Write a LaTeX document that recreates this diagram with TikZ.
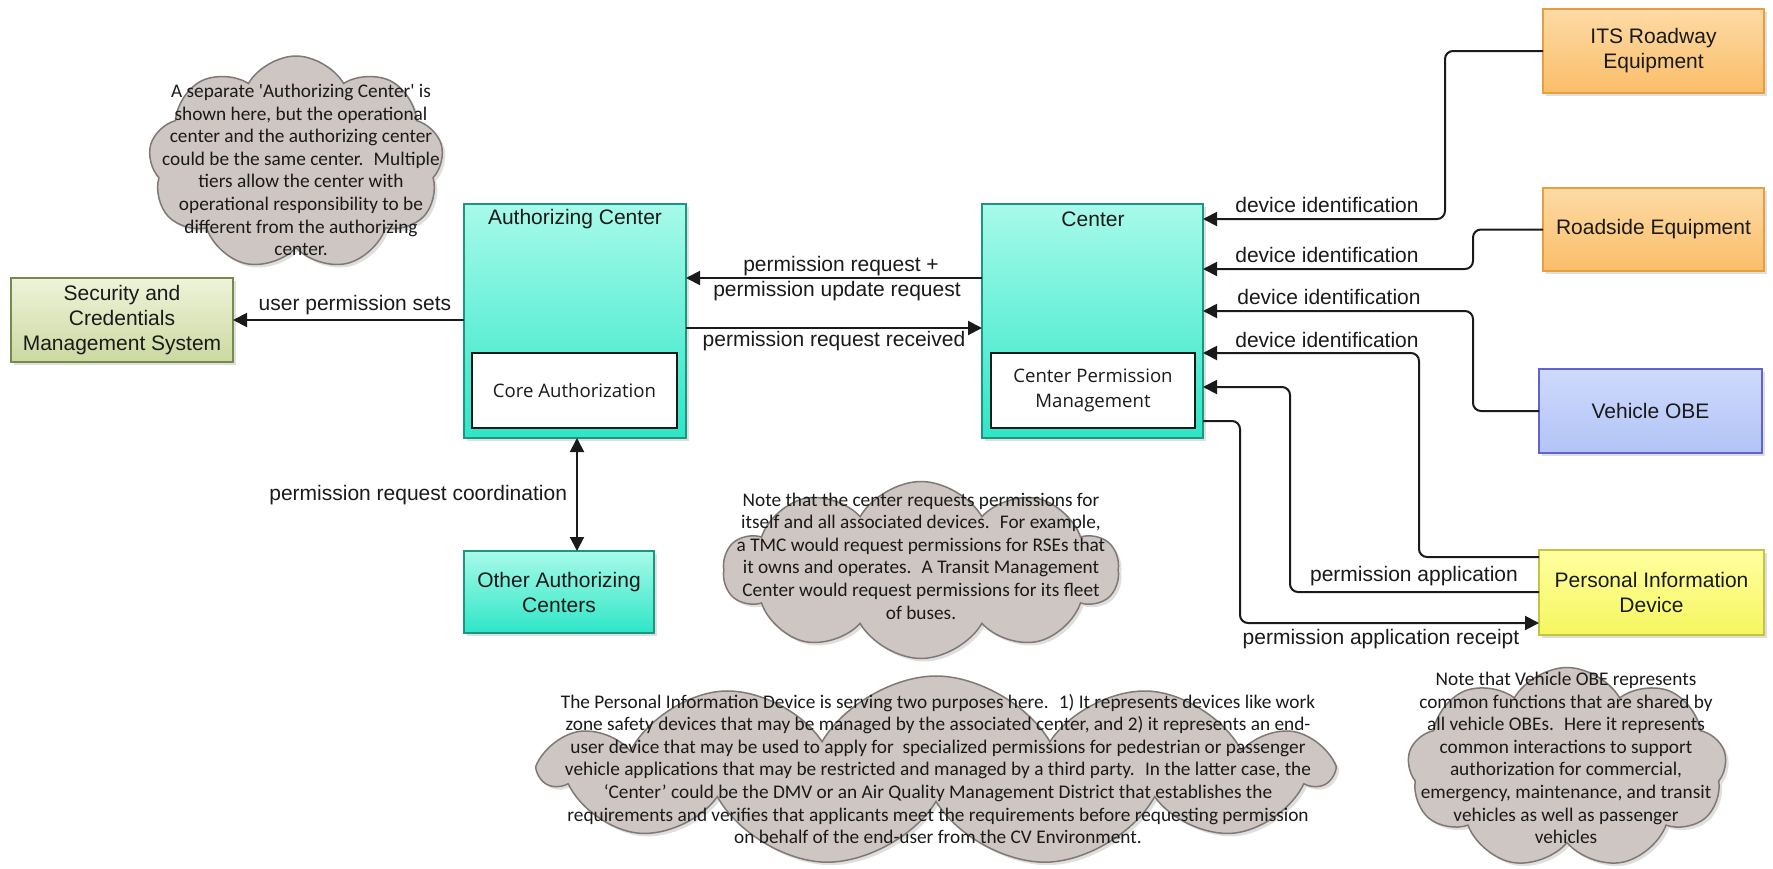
\documentclass[tikz,border=0pt]{standalone}
\usepackage{fontspec}
\setmainfont{Liberation Sans}
\newfontfamily\cloudfont{Carlito}
\newfontfamily\innerfont{Open Sans}
\usetikzlibrary{arrows.meta,shapes.symbols,shadows}
\definecolor{tealtop}{RGB}{168,250,234}
\definecolor{tealbot}{RGB}{46,230,198}
\definecolor{tealedge}{RGB}{28,150,128}
\definecolor{orgtop}{RGB}{253,218,165}
\definecolor{orgbot}{RGB}{250,190,105}
\definecolor{orgedge}{RGB}{232,158,60}
\definecolor{bluetop}{RGB}{206,218,252}
\definecolor{bluebot}{RGB}{178,196,246}
\definecolor{blueedge}{RGB}{98,98,214}
\definecolor{yeltop}{RGB}{255,255,160}
\definecolor{yelbot}{RGB}{246,246,96}
\definecolor{yeledge}{RGB}{196,196,64}
\definecolor{grntop}{RGB}{238,243,218}
\definecolor{grnbot}{RGB}{204,217,160}
\definecolor{grnedge}{RGB}{118,138,78}
\definecolor{cloudfill}{RGB}{206,198,195}
\definecolor{cloudedge}{RGB}{128,120,116}
\definecolor{ink}{RGB}{26,26,26}
\begin{document}
\begin{tikzpicture}[x=1pt,y=-1pt,
  every node/.style={inner sep=0pt,outer sep=0pt},
  >={Triangle[length=14pt,width=14pt]},
  shad/.style={drop shadow={shadow xshift=3pt,shadow yshift=-3pt,opacity=0.25}},
  boxtxt/.style={text=ink,align=center,font=\fontsize{21}{25}\selectfont},
  tealbox/.style={shad,draw=tealedge,line width=1.5pt,top color=tealtop,bottom color=tealbot},
  orgbox/.style={shad,boxtxt,draw=orgedge,line width=1.5pt,top color=orgtop,bottom color=orgbot},
  bluebox/.style={shad,boxtxt,draw=blueedge,line width=1.5pt,top color=bluetop,bottom color=bluebot},
  yelbox/.style={shad,boxtxt,draw=yeledge,line width=1.5pt,top color=yeltop,bottom color=yelbot},
  grnbox/.style={shad,boxtxt,draw=grnedge,line width=1.5pt,top color=grntop,bottom color=grnbot},
  innerbox/.style={draw=ink,line width=2pt,fill=white,text=ink,align=center,font=\innerfont\fontsize{18.6}{25}\selectfont},
  conn/.style={draw=ink,line width=2pt,rounded corners=8pt,->},
  conn2/.style={draw=ink,line width=2pt,<->},
  lbl/.style={text=ink,font=\fontsize{21}{24}\selectfont,text height=15pt,text depth=4pt},
  cloudbox/.style={cloud,cloud ignores aspect,cloud puff arc=120,draw=cloudedge,line width=1.5pt,fill=cloudfill,shad},
  cloudtxt/.style={text=ink,align=center,font=\cloudfont\fontsize{19.3}{22.6}\selectfont}
]
\useasboundingbox (0,0) rectangle (1773,868);
\fill[white] (0,0) rectangle (1773,868);

% notes (clouds)
\node[cloudbox,cloud puffs=9,minimum width=295pt,minimum height=214pt] (cA) at (296,163) {};
\node[cloudtxt] (cAt) at (301,170) {A separate \textquotesingle Authorizing Center\textquotesingle\ is\\shown here, but the operational\\center and the authorizing center\\could be the same center.~ Multiple\\tiers allow the center with\\operational responsibility to be\\different from the authorizing\\center.};

\node[cloudbox,cloud puffs=10,minimum width=395pt,minimum height=177pt] (cB) at (921,570) {};
\node[cloudtxt] (cBt) at (921,556) {Note that the center requests permissions for\\itself and all associated devices.~ For example,\\a TMC would request permissions for RSEs that\\it owns and operates.~ A Transit Management\\Center would request permissions for its fleet\\of buses.};

\node[cloudbox,cloud puffs=11,minimum width=786pt,minimum height=190pt] (cC) at (936,771) {};
\node[cloudtxt] (cCt) at (938,769) {The Personal Information Device is serving two purposes here.~ 1) It represents devices like work\\zone safety devices that may be managed by the associated center, and 2) it represents an end-\\user device that may be used to apply for~ specialized permissions for pedestrian or passenger\\vehicle applications that may be restricted and managed by a third party.~ In the latter case, the\\‘Center’ could be the DMV or an Air Quality Management District that establishes the\\requirements and verifies that applicants meet the requirements before requesting permission\\on behalf of the end-user from the CV Environment.};

\node[cloudbox,cloud puffs=9,minimum width=319pt,minimum height=201pt] (cD) at (1567,768) {};
\node[cloudtxt] (cDt) at (1566,758) {Note that Vehicle OBE represents\\common functions that are shared by\\all vehicle OBEs.~ Here it represents\\common interactions to support\\authorization for commercial,\\emergency, maintenance, and transit\\vehicles as well as passenger\\vehicles};

% boxes
\node[grnbox,minimum width=222pt,minimum height=84pt] (scms) at (122,320) {Security and\\Credentials\\Management System};
\node[tealbox,minimum width=222pt,minimum height=234pt] (auth) at (575,321) {};
\node[boxtxt] (authT) at (575,219) {Authorizing Center};
\node[innerbox,minimum width=205pt,minimum height=75pt] (authin) at (574.5,390.5) {Core Authorization};
\node[tealbox,minimum width=221pt,minimum height=234pt] (ctr) at (1092.5,321) {};
\node[boxtxt] (ctrT) at (1093,219) {Center};
\node[innerbox,minimum width=204pt,minimum height=75pt] (ctrin) at (1093,390.5) {Center Permission\\Management};
\node[tealbox,boxtxt,minimum width=190pt,minimum height=82pt] (other) at (559,592) {Other Authorizing\\Centers};
\node[orgbox,minimum width=221pt,minimum height=84pt] (its) at (1653.5,51) {ITS Roadway\\Equipment};
\node[orgbox,minimum width=221pt,minimum height=83pt] (rse) at (1653.5,229.5) {Roadside Equipment};
\node[bluebox,minimum width=223pt,minimum height=84pt] (vobe) at (1650.5,411) {Vehicle OBE};
\node[yelbox,minimum width=225pt,minimum height=85pt] (pid) at (1651.5,592.5) {Personal Information\\Device};

% connectors
\draw[conn] (its.west) -| (1445,219) -- (ctr.east |- 0,219);
\draw[conn] (rse.west) -| (1473,269) -- (ctr.east |- 0,269);
\draw[conn] (vobe.west) -| (1473,311) -- (ctr.east |- 0,311);
\draw[conn] (pid.west |- 0,557) -| (1419,353) -- (ctr.east |- 0,353);
\draw[conn] (pid.west |- 0,592) -| (1290,387) -- (ctr.east |- 0,387);
\draw[conn] (ctr.east |- 0,421) -| (1240,623) -- (pid.west |- 0,623);
\draw[conn] (auth.west |- 0,320) -- (scms.east |- 0,320);
\draw[conn] (ctr.west |- 0,278) -- (auth.east |- 0,278);
\draw[conn] (auth.east |- 0,328) -- (ctr.west |- 0,328);
\draw[conn2] (auth.south -| 577,0) -- (other.north -| 577,0);

% labels
\node[lbl] (l1) at (1327,207) {device identification};
\node[lbl] (l2) at (1327,257) {device identification};
\node[lbl] (l3) at (1329,299) {device identification};
\node[lbl] (l4) at (1327,342) {device identification};
\node[lbl] (l5) at (1414,576) {permission application};
\node[lbl] (l6) at (1381,639) {permission application receipt};
\node[lbl] (l7) at (355,305) {user permission sets};
\node[lbl] (l8) at (841,266) {permission request +};
\node[lbl] (l9) at (837,291) {permission update request};
\node[lbl] (l10) at (834,341) {permission request received};
\node[lbl,anchor=east] (l11) at (567,495) {permission request coordination};
\end{tikzpicture}
\end{document}
